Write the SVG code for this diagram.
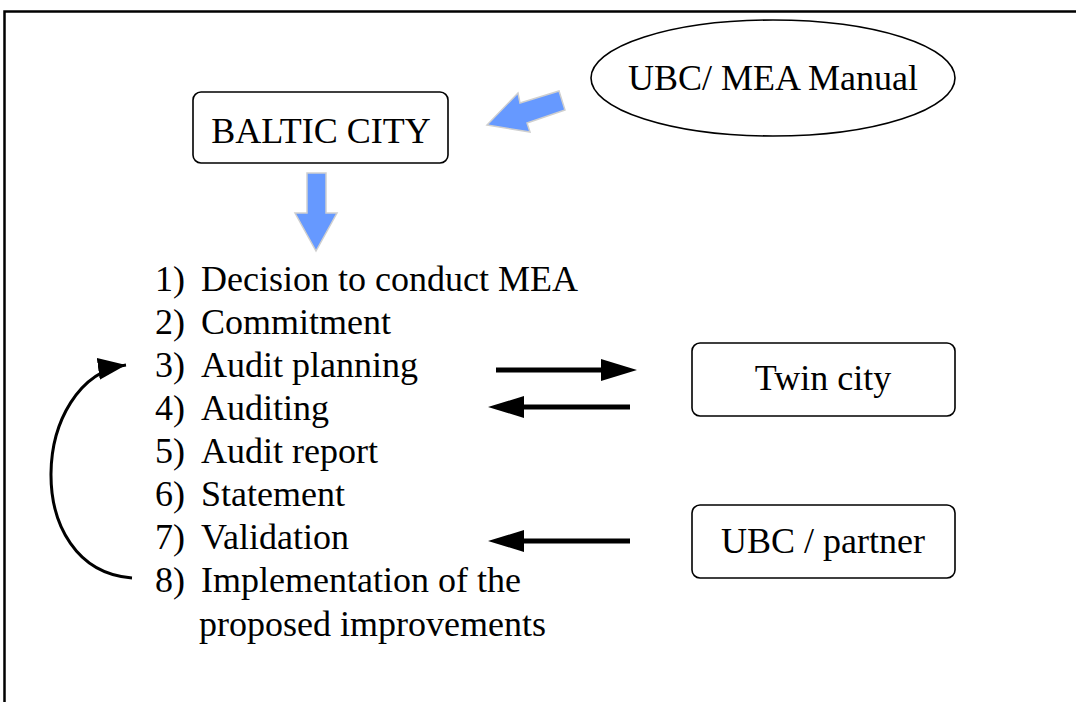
<svg xmlns="http://www.w3.org/2000/svg" width="1076" height="702" viewBox="0 0 1076 702">
<defs>
<style>
text{font-family:"Liberation Serif","Times New Roman",serif;font-size:36px;fill:#000}
.box{fill:#fff;stroke:#000;stroke-width:1.6}
.blue{fill:#6699ff;stroke:#cfcfcf;stroke-width:1.5}
.blk{stroke:#000;stroke-width:5;fill:none}
.head{fill:#000}
</style>
<marker id="ah" markerUnits="userSpaceOnUse" markerWidth="30" markerHeight="22" refX="28" refY="11" orient="auto"><path d="M0,0 L28,11 L0,22 z" fill="#000"/></marker>
</defs>
<rect width="1076" height="702" fill="#fff"/>
<rect x="4.5" y="11.5" width="1200" height="800" fill="none" stroke="#000" stroke-width="2.5"/>
<g id="manual">
<ellipse cx="773" cy="78" rx="182" ry="58" fill="#fff" stroke="#000" stroke-width="1.6"/>
<text x="773" y="90" text-anchor="middle">UBC/ MEA Manual</text>
</g>
<g id="baltic">
<rect class="box" x="193" y="92" width="255" height="71" rx="8"/>
<text x="321" y="143" text-anchor="middle">BALTIC CITY</text>
</g>
<g id="steps">
<text x="155" y="291">1)</text><text x="201" y="291">Decision to conduct MEA</text>
<text x="155" y="334">2)</text><text x="201" y="334">Commitment</text>
<text x="155" y="377">3)</text><text x="201" y="377">Audit planning</text>
<text x="155" y="420">4)</text><text x="201" y="420">Auditing</text>
<text x="155" y="463">5)</text><text x="201" y="463">Audit report</text>
<text x="155" y="506">6)</text><text x="201" y="506">Statement</text>
<text x="155" y="549">7)</text><text x="201" y="549">Validation</text>
<text x="155" y="592">8)</text><text x="201" y="592">Implementation of the</text>
<text x="199" y="636">proposed improvements</text>
</g>
<g id="twin">
<rect class="box" x="692" y="343" width="263" height="73" rx="8"/>
<text x="823" y="390" text-anchor="middle">Twin city</text>
</g>
<g id="partner">
<rect class="box" x="692" y="505" width="263" height="73" rx="8"/>
<text x="823" y="553" text-anchor="middle">UBC / partner</text>
</g>
<g id="connectors">
<polygon class="blue" points="487,125 518,93 520,103 559,91 565,110 527,123 530,132"/>
<polygon class="blue" points="307,173 326,173 326,213 337,213 316,251 295,213 307,213"/>
<line class="blk" x1="496" y1="370" x2="605" y2="370"/>
<polygon class="head" points="601,359 637,370 601,381"/>
<line class="blk" x1="630" y1="407" x2="520" y2="407"/>
<polygon class="head" points="524,396 488,407 524,418"/>
<line class="blk" x1="630" y1="541" x2="520" y2="541"/>
<polygon class="head" points="524,530 488,541 524,552"/>
<path d="M132,578 C20,570 30,378 126,365" fill="none" stroke="#000" stroke-width="3" marker-end="url(#ah)"/>
</g>
</svg>
